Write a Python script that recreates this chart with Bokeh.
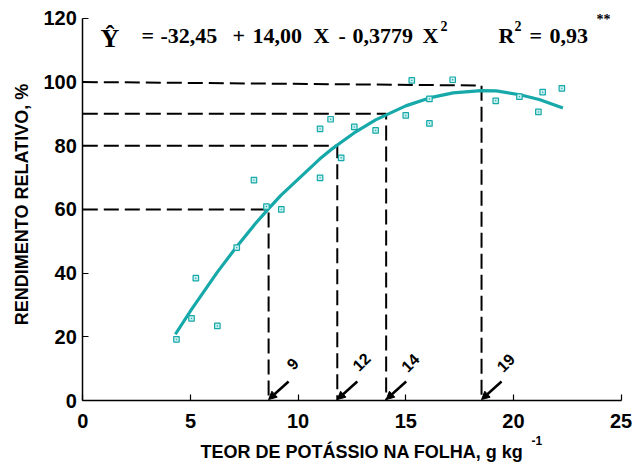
import math
from bokeh.plotting import figure
from bokeh.models import Range1d, FixedTicker, Label, Arrow, NormalHead
from bokeh.embed import file_html
from bokeh.resources import INLINE

# observed points
obs_x = [4.35, 5.05, 5.25, 6.25, 7.15, 7.95, 8.53, 9.22, 11.02, 12.0, 11.02, 11.51,
         12.61, 13.6, 15.0, 16.1, 16.1, 15.28, 17.18, 19.18, 20.28, 21.16, 21.36, 22.25]
obs_y = [19.2, 25.8, 38.4, 23.4, 48.0, 69.2, 60.9, 60.0, 69.9, 76.2, 85.3, 88.3,
         85.9, 84.8, 89.5, 87.0, 94.7, 100.5, 100.7, 94.1, 95.4, 90.6, 96.8, 98.0]

# fitted curve as drawn
curve_x = [4.3, 5.05, 6.25, 7.1, 8.0, 8.6, 9.2, 11.0, 11.5, 12.0, 12.6, 13.6,
           15.0, 16.1, 17.2, 18.5, 19.2, 20.3, 21.2, 22.3]
curve_y = [20.8, 28.6, 40.3, 47.9, 55.4, 60.0, 64.4, 75.8, 78.6, 81.1, 84.0, 88.1,
           92.5, 95.0, 96.6, 97.3, 97.2, 96.0, 94.5, 91.8]

# reference levels (relative yield) and critical leaf K
level_y_left = [60, 80, 90, 100]
level_y_right = [60, 80, 90, 98.9]
level_x = [8.63, 11.82, 14.09, 18.52]
level_labels = ["9", "12", "14", "19"]
level_label_y = [11.6, 12.2, 11.9, 11.9]

x_ticks = [0, 5, 10, 15, 20, 25]
y_ticks = [0, 20, 40, 60, 80, 100, 120]

teal = "#17a9a9"

W, H = 642, 465
X0, SX = 82.3, 21.53      # pixel of x=0, pixels per x unit
Y0, SY = 400.0, 3.185     # pixel of y=0, pixels per y unit

p = figure(width=W, height=H, output_backend="svg", toolbar_location=None,
           x_range=Range1d(-X0 / SX, (W - X0) / SX),
           y_range=Range1d((Y0 - H) / SY, Y0 / SY))
p.min_border_left = 0
p.min_border_right = 0
p.min_border_top = 0
p.min_border_bottom = 0
p.outline_line_color = None
p.xgrid.visible = False
p.ygrid.visible = False
p.background_fill_color = "white"
p.border_fill_color = "white"

for ax, ticks, bnds in ((p.xaxis[0], x_ticks, (0, 25)), (p.yaxis[0], y_ticks, (0, 120))):
    ax.fixed_location = 0
    ax.bounds = bnds
    ax.ticker = FixedTicker(ticks=ticks)
    ax.major_tick_in = 6
    ax.major_tick_out = 0
    ax.minor_tick_line_color = None
    ax.axis_line_width = 1.5
    ax.axis_line_color = "black"
    ax.major_tick_line_color = "black"
    ax.major_tick_line_width = 1.2
    ax.major_label_text_font = "Liberation Sans"
    ax.major_label_text_font_style = "bold"
    ax.major_label_text_font_size = "20px"
    ax.major_label_text_color = "black"
p.xaxis[0].major_label_standoff = 13
p.yaxis[0].major_label_standoff = 6


def px2x(px):
    return (px - X0) / SX


def py2y(py):
    return (Y0 - py) / SY


# dashed guide lines
xs = [[0, lx, lx] for lx in level_x]
ys = [[yl, yr, 0] for yl, yr in zip(level_y_left, level_y_right)]
p.multi_line(xs, ys, line_color="black", line_width=2, line_dash="15 6")

# curve
p.line(curve_x, curve_y, line_color=teal, line_width=3.2)

# points
p.scatter(obs_x, obs_y, marker="square_dot", size=5.5, line_color=teal,
          fill_color="#c8eeee", line_width=1.2)

# arrows and rotated labels
for lx, lab, ly in zip(level_x, level_labels, level_label_y):
    p.add_layout(Arrow(x_start=lx + 0.93, y_start=5.97, x_end=lx, y_end=0.3,
                       line_color="black", line_width=2.5,
                       end=NormalHead(size=8, fill_color="black", line_color="black")))
    p.add_layout(Label(x=lx + 1.11, y=ly, text=lab, angle=math.pi / 4,
                       text_align="center", text_baseline="middle",
                       text_font="Liberation Sans", text_font_style="bold",
                       text_font_size="16px", text_color="black"))

# equation (pieces placed at pixel positions)
serif = "Liberation Serif"
eq_parts = [
    (100, 38, "\u0176", "26px"),
    (141, 35, "=", "22px"),
    (160, 35, "-32,45", "22px"),
    (232, 35, "+", "22px"),
    (252, 35, "14,00", "22px"),
    (313, 35, "X", "22px"),
    (338, 35, "-", "22px"),
    (352, 35, "0,3779", "22px"),
    (422, 35, "X", "22px"),
    (440, 25, "2", "14px"),
    (498, 35, "R", "22px"),
    (514, 25, "2", "14px"),
    (529, 35, "=", "22px"),
    (549, 35, "0,93", "22px"),
    (596, 19, "**", "14px"),
]
for ex, ey, t, fs in eq_parts:
    p.add_layout(Label(x=px2x(ex), y=py2y(ey), text=t, text_align="left",
                       text_baseline="alphabetic", text_font=serif,
                       text_font_style="bold", text_font_size=fs, text_color="black"))

# axis titles
p.add_layout(Label(x=px2x(21.5), y=py2y(204), text="RENDIMENTO RELATIVO, %", angle=math.pi / 2,
                   text_align="center", text_baseline="middle",
                   text_font="Liberation Sans", text_font_style="bold",
                   text_font_size="18px", text_color="black"))
p.add_layout(Label(x=px2x(200), y=py2y(451), text="TEOR DE POT\u00c1SSIO NA FOLHA, g kg",
                   text_align="left", text_baseline="alphabetic",
                   text_font="Liberation Sans", text_font_style="bold",
                   text_font_size="18px", text_color="black"))
p.add_layout(Label(x=px2x(531), y=py2y(440), text="-1",
                   text_align="left", text_baseline="alphabetic",
                   text_font="Liberation Sans", text_font_style="bold",
                   text_font_size="12px", text_color="black"))

open("out.html", "w").write(file_html(p, INLINE))
